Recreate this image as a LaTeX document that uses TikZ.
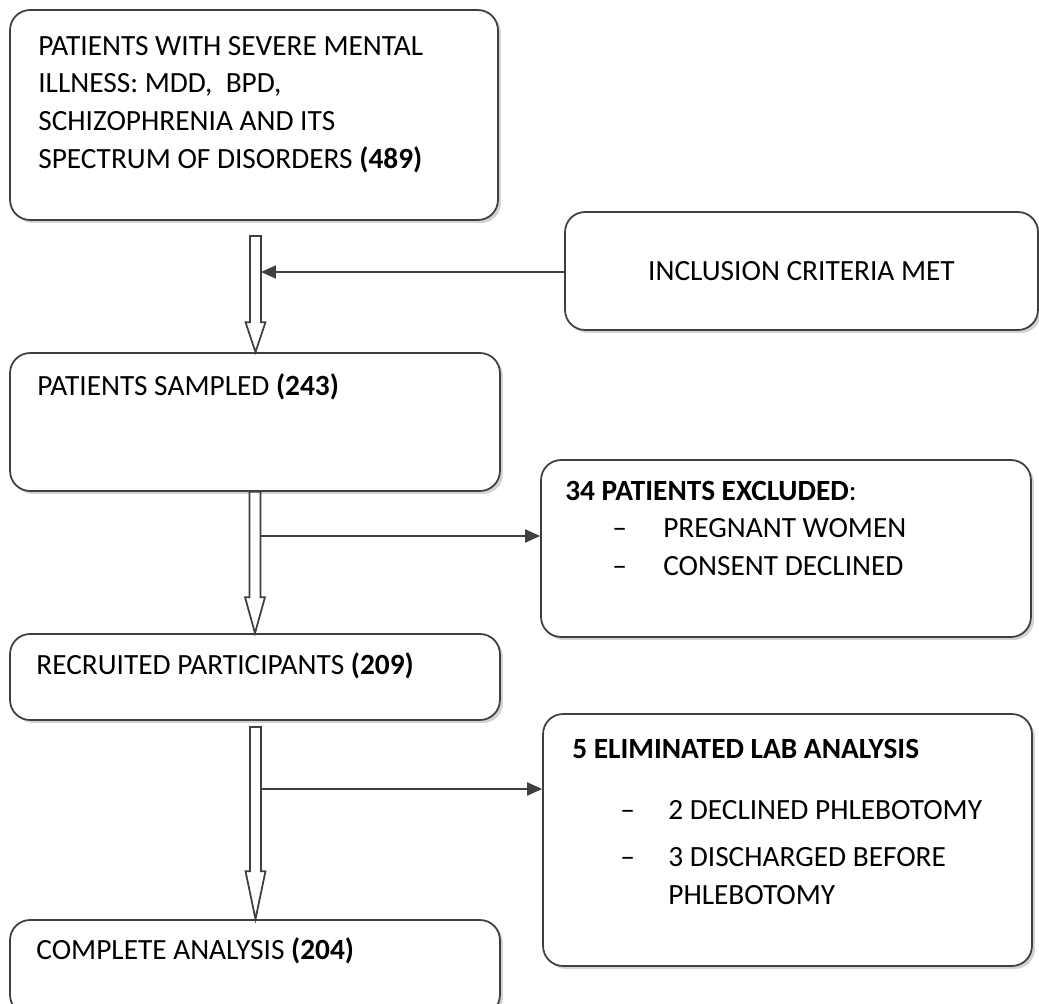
\documentclass[tikz,border=0pt]{standalone}
\usepackage{fontspec}
\setmainfont{Carlito}
\usetikzlibrary{arrows.meta,shadows,calc}
\definecolor{lineclr}{HTML}{3F3F3F}
\tikzset{
  box/.style={draw=lineclr, line width=1pt, rounded corners=0.4cm, fill=white, inner sep=0pt,
    drop shadow={shadow xshift=0.06cm, shadow yshift=-0.06cm, opacity=0.35}},
  txt/.style={anchor=north west, inner sep=0pt, align=left},
  hollow/.style={draw=lineclr, line width=1pt, fill=white, line join=miter},
  link/.style={draw=lineclr, line width=1pt, -{Triangle[length=8.5pt,width=7.4pt]}}
}
% hollow block arrow: from, to, head length
\newcommand{\hollowarrow}[3]{%
  \path[hollow] let \p1=(#1), \p2=(#2) in
    (\x1-0.11cm,\y1) -- (\x1-0.11cm,\y2+#3) -- (\x1-0.2cm,\y2+#3) -- (\x1,\y2)
    -- (\x1+0.2cm,\y2+#3) -- (\x1+0.11cm,\y2+#3) -- (\x1+0.11cm,\y1) -- cycle;}
\begin{document}
\begin{tikzpicture}[x=0.02cm, y=-0.02cm, font=\fontsize{16.7}{21.4}\selectfont]
	\useasboundingbox (0,0) rectangle (1039,1004);
	% Boxes
	\node (sevmi) [box, minimum width=9.76cm, minimum height=4.2cm] at (254,115) {};
	\node (incl) [box, minimum width=9.46cm, minimum height=2.36cm] at (801.5,271) {INCLUSION CRITERIA MET};
	\node (sampled) [box, minimum width=9.8cm, minimum height=2.76cm] at (255,422) {};
	\node (excl) [box, minimum width=9.8cm, minimum height=3.54cm] at (786,548.5) {};
	\node (recruit) [box, minimum width=9.8cm, minimum height=1.72cm] at (255,677) {};
	\node (elim) [box, minimum width=9.78cm, minimum height=5.04cm] at (787.5,840) {};
	\node (complete) [box, minimum width=9.8cm, minimum height=1.9cm] at (255,967.5) {};

	% Texts
	\node (sevmitxt) [txt] at (38,28.6) {\strut PATIENTS WITH SEVERE MENTAL\\ILLNESS: MDD,\ \ BPD,\\SCHIZOPHRENIA AND ITS\\SPECTRUM OF DISORDERS \textbf{(489)}};
	\node (sampledtxt) [txt] at (37,368.6) {\strut PATIENTS SAMPLED \textbf{(243)}};
	\node (recruittxt) [txt] at (36,647.6) {\strut RECRUITED PARTICIPANTS \textbf{(209)}};
	\node (completetxt) [txt] at (36,932.6) {\strut COMPLETE ANALYSIS \textbf{(204)}};
	\node (excltxt) [txt] at (565,473.6) {\strut\textbf{34 PATIENTS EXCLUDED}:\\
		\hspace*{0.94cm}\makebox[1.02cm][l]{--}PREGNANT WOMEN\\
		\hspace*{0.94cm}\makebox[1.02cm][l]{--}CONSENT DECLINED};
	\node (elimtxt) [txt] at (572,731.6) {\strut\textbf{5 ELIMINATED LAB ANALYSIS}\\[0.48cm]
		\hspace*{0.96cm}\makebox[0.96cm][l]{--}2 DECLINED PHLEBOTOMY\\[0.18cm]
		\hspace*{0.96cm}\makebox[0.96cm][l]{--}3 DISCHARGED BEFORE\\
		\hspace*{1.92cm}PHLEBOTOMY};

	% Arrows
	\coordinate (a1) at (255.5,236);
	\coordinate (a3) at (255.5,727);
	\coordinate (j1) at (261,272);
	\coordinate (j2) at (261,536);
	\coordinate (j3) at (261,789);
	\hollowarrow{a1}{sampled.north}{0.6cm}
	\hollowarrow{sampled.south}{recruit.north}{0.72cm}
	\hollowarrow{a3}{complete.north}{0.96cm}
	\draw[link] (incl.west |- j1) -- (j1);
	\draw[link] (j2) -- (j2 -| excl.west);
	\draw[link] (j3) -- (j3 -| elim.west);
\end{tikzpicture}
\end{document}
